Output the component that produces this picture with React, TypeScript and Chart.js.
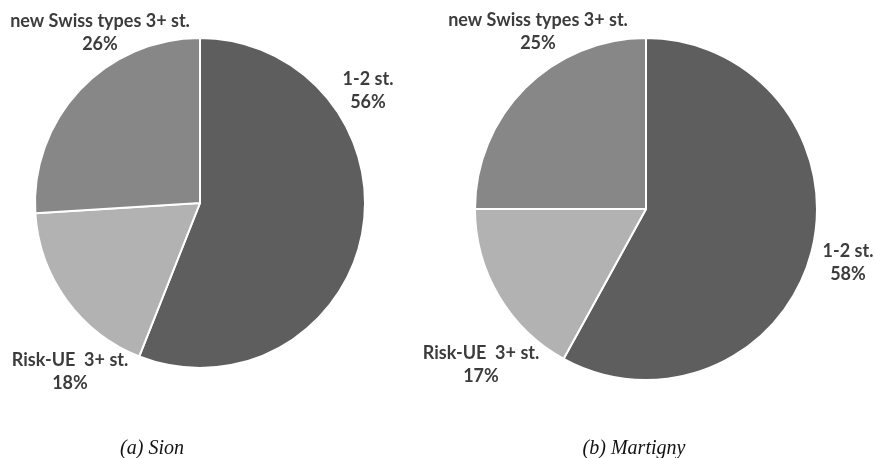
import React, { useEffect, useRef } from "react";
import { Chart, registerables } from "chart.js";

Chart.register(...registerables);

const categories = ["1-2 st.", "Risk-UE  3+ st.", "new Swiss types 3+ st."];
const sionValues = [56, 18, 26];
const martignyValues = [58, 17, 25];
const captions = ["(a) Sion", "(b) Martigny"];
const sliceColors = ["#5e5e5e", "#b2b2b2", "#878787"];

type Pt = [number, number];

const labelPlugin = {
  id: "sliceLabels",
  afterDraw(chart: any, _args: any, opts: any) {
    const ctx = chart.ctx as CanvasRenderingContext2D;
    const ds = chart.data.datasets[0];
    const labels = chart.data.labels as string[];
    ctx.save();
    ctx.textAlign = "center";
    ctx.textBaseline = "middle";
    ctx.fillStyle = "#3c3c3c";
    ctx.font = "bold 18px Lato, 'Open Sans', sans-serif";
    (opts.positions as Pt[]).forEach((p, i) => {
      ctx.fillText(labels[i], p[0], p[1]);
      ctx.fillText(`${ds.data[i]}%`, p[0], p[1] + 23);
    });
    ctx.fillStyle = "#111111";
    ctx.font = "italic 20px 'Liberation Serif', 'Times New Roman', serif";
    ctx.fillText(opts.caption, opts.captionPos[0], opts.captionPos[1]);
    ctx.restore();
  },
};

function PieCanvas(props: {
  values: number[];
  padding: { left: number; right: number; top: number; bottom: number };
  positions: Pt[];
  caption: string;
  captionPos: Pt;
}) {
  const ref = useRef<HTMLCanvasElement | null>(null);
  useEffect(() => {
    if (!ref.current) return;
    const chart = new Chart(ref.current, {
      type: "pie",
      data: {
        labels: categories,
        datasets: [
          {
            data: props.values,
            backgroundColor: sliceColors,
            borderColor: "#ffffff",
            borderWidth: 2,
          },
        ],
      },
      options: {
        responsive: false,
        animation: false,
        devicePixelRatio: 1,
        layout: { padding: props.padding },
        plugins: {
          legend: { display: false },
          tooltip: { enabled: false },
          sliceLabels: {
            positions: props.positions,
            caption: props.caption,
            captionPos: props.captionPos,
          },
        } as any,
      },
      plugins: [labelPlugin],
    });
    return () => chart.destroy();
  }, []);
  return (
    <canvas
      ref={ref}
      width={875}
      height={458}
      style={{ position: "absolute", left: 0, top: 0, width: 875, height: 458 }}
    />
  );
}

export default function App() {
  return (
    <div
      style={{
        position: "absolute",
        left: 0,
        top: 0,
        width: 875,
        height: 458,
        background: "#ffffff",
        overflow: "hidden",
      }}
    >
      <PieCanvas
        values={sionValues}
        padding={{ left: 34, right: 509, top: 37, bottom: 89 }}
        positions={[
          [368, 79],
          [70, 360],
          [100, 21],
        ]}
        caption={captions[0]}
        captionPos={[152, 449]}
      />
      <PieCanvas
        values={martignyValues}
        padding={{ left: 474, right: 57, top: 37, bottom: 77 }}
        positions={[
          [848, 251],
          [481, 353],
          [538, 20],
        ]}
        caption={captions[1]}
        captionPos={[634, 449]}
      />
    </div>
  );
}
